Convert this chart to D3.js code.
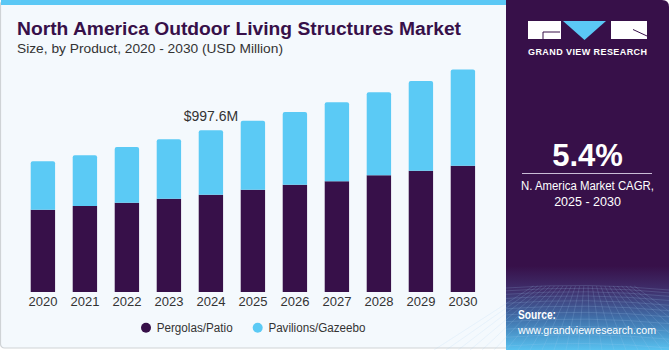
<!DOCTYPE html>
<html><head><meta charset="utf-8">
<script src="https://cdn.jsdelivr.net/npm/d3@7"></script>
<style>html,body{margin:0;padding:0;background:#fff;}svg{display:block;}</style>
</head><body>
<svg id="chart" width="670" height="350"></svg>
<script>
const years = ["2020","2021","2022","2023","2024","2025","2026","2027","2028","2029","2030"];
const pergolas = [508, 531, 551, 576, 600, 631, 662, 683, 720, 748, 779];
const pavilions = [298, 312, 344, 366, 397.6, 426, 448, 487, 512, 554, 593];
const seriesNames = ["Pergolas/Patio", "Pavilions/Gazeebo"];
const seriesColors = ["#371049", "#5bcaf5"];
const annotation = {year: "2024", label: "$997.6M"};

const FONT = "Liberation Sans, Arial, sans-serif";
const svg = d3.select("#chart");
const defs = svg.append("defs");

// left panel background
svg.append("rect").attr("x",0.5).attr("y",0.5).attr("width",512).attr("height",347.5)
  .attr("rx",4).attr("fill","#f4f9fd").attr("stroke","#cfd3d6").attr("stroke-width",1.2);
svg.append("rect").attr("x",1).attr("y",0).attr("width",510).attr("height",5).attr("fill","#5bc8f5");

// right panel
const g1 = defs.append("linearGradient").attr("id","pgrad").attr("x1",0).attr("y1",0).attr("x2",0).attr("y2",1);
[[0,"#371049"],[0.76,"#371049"],[0.83,"#3f2f6c"],[0.91,"#4070aa"],[1,"#58c2f0"]].forEach(s=>
  g1.append("stop").attr("offset",s[0]).attr("stop-color",s[1]));
const px0 = 506, px1 = 669, pr = 7;
svg.append("path")
  .attr("d",`M${px0},0 H${px1-pr} Q${px1},0 ${px1},${pr} V350 H${px0} Z`)
  .attr("fill","url(#pgrad)");
// faint grid at bottom of panel
const grid = svg.append("g").attr("stroke","#a9d2f2").attr("stroke-opacity",0.25).attr("stroke-width",0.7).attr("fill","none");
for (let i=0;i<14;i++){
  const yy = 288 + i*i*0.33 + i*2.5;
  grid.append("path").attr("d",`M${px0},${yy} Q${(px0+px1)/2},${yy-6} ${px1},${yy+2}`);
}
for (let i=-6;i<=18;i++){
  const xt = px0 + i*12;
  grid.append("line").attr("x1",587+(xt-587)*0.35).attr("y1",286).attr("x2",xt).attr("y2",350);
}
// logo
const lg = svg.append("g");
lg.append("rect").attr("x",528).attr("y",21).attr("width",33).attr("height",18).attr("fill","#fff");
lg.append("path").attr("d","M543,39 V32 H560").attr("stroke","#371049").attr("stroke-width",1).attr("fill","none");
lg.append("path").attr("d","M563,21 H606 L584.5,40 Z").attr("fill","#5bc8f5");
lg.append("rect").attr("x",611).attr("y",21).attr("width",36).attr("height",18).attr("fill","#fff");
lg.append("path").attr("d","M633,29.5 L647,36").attr("stroke","#371049").attr("stroke-width",1).attr("fill","none");
lg.append("text").attr("x",528).attr("y",54.5)
  .attr("font-family",FONT).attr("font-weight","bold").attr("font-size",9)
  .attr("textLength",119).attr("lengthAdjust","spacing")
  .attr("fill","#fff").text("GRAND VIEW RESEARCH");

svg.append("text").attr("x",587.5).attr("y",166).attr("text-anchor","middle")
  .attr("font-family",FONT).attr("font-weight","bold").attr("font-size",31)
  .attr("fill","#fff").text("5.4%");
svg.append("line").attr("x1",522).attr("x2",652).attr("y1",173.5).attr("y2",173.5)
  .attr("stroke","#c9bcd6").attr("stroke-width",1.2);
svg.append("text").attr("x",521).attr("y",190)
  .attr("font-family",FONT).attr("font-size",12.5)
  .attr("textLength",133).attr("lengthAdjust","spacingAndGlyphs")
  .attr("fill","#fff").text("N. America Market CAGR,");
svg.append("text").attr("x",587.5).attr("y",205.5).attr("text-anchor","middle")
  .attr("font-family",FONT).attr("font-size",12.5)
  .attr("fill","#fff").text("2025 - 2030");
svg.append("text").attr("x",518).attr("y",319).attr("font-family",FONT)
  .attr("font-weight","bold").attr("font-size",12)
  .attr("textLength",38).attr("lengthAdjust","spacingAndGlyphs")
  .attr("fill","#fff").text("Source:");
svg.append("text").attr("x",518).attr("y",334).attr("font-family",FONT)
  .attr("font-size",11)
  .attr("textLength",138).attr("lengthAdjust","spacingAndGlyphs")
  .attr("fill","#fff").text("www.grandviewresearch.com");

// titles
svg.append("text").attr("x",17).attr("y",35).attr("font-family",FONT)
  .attr("font-weight","bold").attr("font-size",17.5).attr("fill","#371049")
  .attr("textLength",444).attr("lengthAdjust","spacingAndGlyphs")
  .text("North America Outdoor Living Structures Market");
svg.append("text").attr("x",17).attr("y",53).attr("font-family",FONT)
  .attr("font-size",13).attr("fill","#333")
  .attr("textLength",266).attr("lengthAdjust","spacingAndGlyphs")
  .text("Size, by Product, 2020 - 2030 (USD Million)");

// scales
const x = d3.scaleBand().domain(years).range([21.9, 483.9]).paddingInner(0.42).paddingOuter(0.21);
const y = d3.scaleLinear().domain([0, 1500]).range([292, 292 - 1500*161.7/997.6]);

const data = years.map((yr,i)=>({year:yr, a:pergolas[i], b:pavilions[i]}));
const stack = d3.stack().keys(["a","b"])(data);

const r = 2;
const bars = svg.append("g");
stack.forEach((layer, li) => {
  bars.selectAll(null).data(layer).enter().append("path")
    .attr("fill", seriesColors[li])
    .attr("d", d => {
      const x0 = x(d.data.year), w = x.bandwidth();
      const yt = y(d[1]), yb = y(d[0]);
      if (li === 1) {
        return `M${x0},${yb} V${yt+r} Q${x0},${yt} ${x0+r},${yt} H${x0+w-r} Q${x0+w},${yt} ${x0+w},${yt+r} V${yb} Z`;
      }
      return `M${x0},${yb} V${yt} H${x0+w} V${yb} Z`;
    });
});

// x axis
const xAxis = svg.append("g").attr("transform","translate(0,292)")
  .call(d3.axisBottom(x).tickSize(0).tickPadding(5));
xAxis.select(".domain").remove();
xAxis.selectAll("text").attr("font-family",FONT).attr("font-size",13)
  .attr("fill","#333").attr("dy","0.71em");

// annotation
const ai = years.indexOf(annotation.year);
svg.append("text").attr("x", x(annotation.year)+x.bandwidth()/2).attr("y", y(pergolas[ai]+pavilions[ai]) - 9.5)
  .attr("text-anchor","middle").attr("font-family",FONT).attr("font-size",14)
  .attr("fill","#333").text(annotation.label);

// legend
const legX = [146, 257.7];
const legW = [76, 97];
const leg = svg.append("g");
seriesNames.forEach((n,i)=>{
  leg.append("circle").attr("cx",legX[i]).attr("cy",327.7).attr("r",5).attr("fill",seriesColors[i]);
  leg.append("text").attr("x",legX[i]+10.7).attr("y",332).attr("font-family",FONT)
    .attr("font-size",12.5).attr("fill","#333")
    .attr("textLength",legW[i]).attr("lengthAdjust","spacingAndGlyphs").text(n);
});
</script>
</body></html>
